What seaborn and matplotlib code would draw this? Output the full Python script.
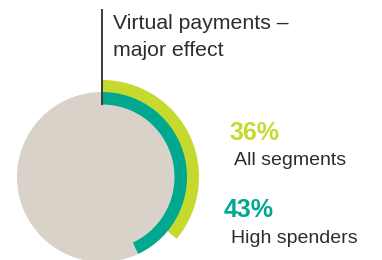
import matplotlib
matplotlib.use("Agg")
import matplotlib.pyplot as plt
import seaborn as sns

# --- data ---
segments = ["All segments", "High spenders"]
shares = [36, 43]
seg_colors = ["#c6d92e", "#00a88f"]
title = "Virtual payments \u2013\nmajor effect"

sns.set_style("white")
plt.rcParams["font.family"] = ["Liberation Sans", "DejaVu Sans"]

W, H = 382, 260
fig = plt.figure(figsize=(W / 100, H / 100), dpi=100)
ax = fig.add_axes([0, 0, 1, 1])

cx, cy = 102, H - 177
ring_w = 12.5

# grey base disk
ax.pie([100], radius=85, center=(cx, cy), colors=["#d8d2c9"],
       startangle=90, counterclock=False, wedgeprops=dict(linewidth=0))

# outer ring: all segments, inner ring: high spenders
radii = [97, 85]
for share, col, r in zip(shares, seg_colors, radii):
    ax.pie([share, 100 - share], radius=r, center=(cx, cy),
           colors=[col, "none"], startangle=90, counterclock=False,
           wedgeprops=dict(width=ring_w, linewidth=0))

# pointer line up to the title
ax.plot([cx, cx], [H - 9, cy + radii[1] - ring_w], color="#3a3a3a", lw=1.4,
        solid_capstyle="butt")

ax.text(113, H - 14, title, fontsize=15.3, color="#2d2d2d", va="top",
        ha="left", linespacing=1.5)

label_pos = [(229, 140, 234, 165), (224, 217, 231, 243)]
for seg, share, col, (px, py, lx, ly) in zip(segments, shares, seg_colors, label_pos):
    ax.text(px, H - py, f"{share}%", fontsize=18, fontweight="bold", color=col,
            va="baseline", ha="left")
    ax.text(lx, H - ly, seg, fontsize=14, color="#2d2d2d", va="baseline", ha="left")

ax.set_xlim(0, W)
ax.set_ylim(0, H)
ax.set_aspect("auto")
ax.axis("off")

fig.savefig("out.png", dpi=100)
